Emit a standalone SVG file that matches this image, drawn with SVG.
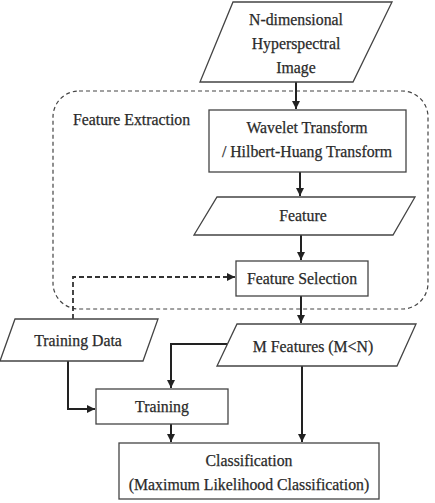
<svg xmlns="http://www.w3.org/2000/svg" width="435" height="503" viewBox="0 0 435 503">
<defs>
<marker id="ah" viewBox="0 0 10 10" refX="10" refY="5" markerWidth="8" markerHeight="8" markerUnits="userSpaceOnUse" orient="auto"><path d="M0,0 L10,5 L0,10 z" fill="#222"/></marker>
<style>
.shape{fill:#fff;stroke:#444;stroke-width:1.3}
text{font-family:'Liberation Serif','Times New Roman',serif;font-size:15.8px;fill:#2a2a2a;stroke:#2a2a2a;stroke-width:0.25;text-anchor:middle}
.c{fill:none;stroke:#222;stroke-width:2}
.d{fill:none;stroke:#333;stroke-width:1.8;stroke-dasharray:5,3}
</style>
</defs>
<rect width="435" height="503" fill="#fff"/>
<g id="feature-extraction">
<rect x="53" y="91" width="375" height="218" rx="26" ry="26" fill="none" stroke="#444" stroke-width="1.2" stroke-dasharray="4,3"/>
<text x="73" y="125" style="text-anchor:start">Feature Extraction</text>
</g>
<g id="connectors">
<path class="c" d="M296,82 V109" marker-end="url(#ah)"/>
<path class="c" d="M300,172 V196" marker-end="url(#ah)"/>
<path class="c" d="M301,235 V260" marker-end="url(#ah)"/>
<path class="c" d="M301,296 V323" marker-end="url(#ah)"/>
<path class="d" d="M73,319 V277 H235" marker-end="url(#ah)"/>
<path class="c" d="M227,344 H171 V388" marker-end="url(#ah)"/>
<path class="c" d="M68,361 V409 H95" marker-end="url(#ah)"/>
<path class="c" d="M171,424 V442" marker-end="url(#ah)"/>
<path class="c" d="M302,366 V442" marker-end="url(#ah)"/>
</g>
<g id="image">
<polygon class="shape" points="233,2 392,2 353,82 200,82"/>
<text x="296" y="25">N-dimensional</text>
<text x="296" y="49">Hyperspectral</text>
<text x="296" y="73">Image</text>
</g>
<g id="transform">
<rect class="shape" x="209" y="110" width="197" height="62"/>
<text x="307" y="133">Wavelet Transform</text>
<text x="307" y="157">/ Hilbert-Huang Transform</text>
</g>
<g id="feature">
<polygon class="shape" points="217,197 415,197 393,235 194,235"/>
<text x="303" y="221">Feature</text>
</g>
<g id="feature-selection">
<rect class="shape" x="236" y="261" width="132" height="35"/>
<text x="302" y="284">Feature Selection</text>
</g>
<g id="training-data">
<polygon class="shape" points="15,319 158,319 143,361 0,361"/>
<text x="78" y="346">Training Data</text>
</g>
<g id="m-features">
<polygon class="shape" points="237,324 416,324 397,366 217,366"/>
<text x="313" y="352">M Features (M&lt;N)</text>
</g>
<g id="training">
<rect class="shape" x="96" y="389" width="132" height="35"/>
<text x="162" y="412">Training</text>
</g>
<g id="classification">
<rect class="shape" x="119" y="443" width="260" height="56"/>
<text x="249" y="466">Classification</text>
<text x="249" y="490">(Maximum Likelihood Classification)</text>
</g>
</svg>
